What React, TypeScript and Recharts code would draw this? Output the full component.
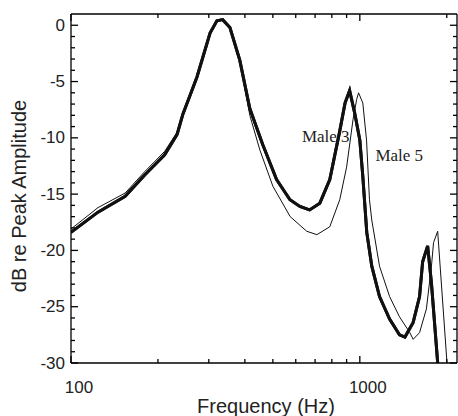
import React from "react";
import { LineChart, Line, XAxis, YAxis, ReferenceDot } from "recharts";

// Male 3 (thick) and Male 5 (thin), frequency in Hz, level in dB re peak
const male3Freq = [100, 124, 154, 180, 211, 233, 244, 273, 303, 320, 335, 355, 384, 416, 461, 515, 573, 620, 670, 727, 787, 852, 889, 922, 960, 1000, 1024, 1057, 1100, 1170, 1268, 1372, 1433, 1530, 1610, 1650, 1717, 1770, 1880];
const male3Db = [-18.4, -16.6, -15.2, -13.3, -11.5, -9.7, -7.9, -4.6, -0.7, 0.4, 0.5, -0.2, -3.1, -7.4, -10.6, -13.7, -15.5, -16.1, -16.4, -15.8, -13.7, -9.4, -6.9, -5.8, -7.8, -10.2, -13.4, -18.4, -21.4, -24.1, -26.1, -27.5, -27.7, -26.4, -24.1, -21.0, -19.6, -22.9, -31.5];

const male5Freq = [100, 124, 154, 180, 211, 233, 244, 273, 303, 320, 335, 355, 384, 416, 451, 500, 574, 655, 710, 787, 852, 900, 947, 975, 990, 1024, 1055, 1080, 1100, 1170, 1268, 1372, 1490, 1530, 1610, 1700, 1770, 1800, 1860, 2010];
const male5Db = [-18.1, -16.2, -14.9, -13.0, -11.2, -9.5, -7.8, -4.5, -0.7, 0.4, 0.5, -0.2, -3.1, -8.0, -11.1, -14.3, -17.0, -18.3, -18.6, -17.9, -15.5, -12.6, -8.4, -6.6, -6.0, -6.9, -10.2, -15.5, -17.3, -21.4, -24.1, -25.9, -27.3, -27.9, -27.3, -25.2, -21.4, -19.3, -18.3, -30.5];

const xTicks = [100, 200, 300, 400, 500, 600, 700, 800, 900, 1000, 2000];
const xLabels = [100, 1000];
const yTicks = [-30, -29, -28, -27, -26, -25, -24, -23, -22, -21, -20, -19, -18, -17, -16, -15, -14, -13, -12, -11, -10, -9, -8, -7, -6, -5, -4, -3, -2, -1, 0];
const yLabels = [-30, -25, -20, -15, -10, -5, 0];

const male3 = male3Freq.map((f, i) => ({ f, db: male3Db[i] }));
const male5 = male5Freq.map((f, i) => ({ f, db: male5Db[i] }));

const LeftTick = ({ y, payload }: any) => {
  const major = yLabels.includes(payload.value);
  return (
    <g>
      <line x1={71} x2={major ? 78 : 75} y1={y} y2={y} stroke="black" strokeWidth={1.3} />
      {major && (
        <text x={65} y={y} textAnchor="end" dominantBaseline="central" fontSize={17} fill="#222" fontFamily="Liberation Sans, Arial, sans-serif">
          {payload.value}
        </text>
      )}
    </g>
  );
};

const RightTick = ({ y, payload }: any) => {
  const major = yLabels.includes(payload.value);
  return <line x1={457} x2={major ? 450 : 453} y1={y} y2={y} stroke="black" strokeWidth={1.3} />;
};

const BottomTick = ({ x, payload }: any) => {
  const major = xLabels.includes(payload.value);
  return (
    <g>
      <line x1={x} x2={x} y1={363} y2={major ? 356 : 359} stroke="black" strokeWidth={1.3} />
      {major && (
        <text x={x + 8} y={387} textAnchor="middle" dominantBaseline="central" fontSize={17} fill="#222" fontFamily="Liberation Sans, Arial, sans-serif">
          {payload.value}
        </text>
      )}
    </g>
  );
};

const TopTick = ({ x, payload }: any) => {
  const major = xLabels.includes(payload.value);
  return <line x1={x} x2={x} y1={14} y2={major ? 21 : 18} stroke="black" strokeWidth={1.3} />;
};

const titleStyle: React.CSSProperties = {
  position: "absolute",
  height: 24,
  lineHeight: "24px",
  textAlign: "center",
  fontSize: 20,
  fontFamily: "Liberation Sans, Arial, sans-serif",
  color: "#222",
  whiteSpace: "nowrap",
};

export default function App() {
  return (
    <div style={{ position: "absolute", left: 0, top: 0, width: 458, height: 416, background: "#fff" }}>
      <LineChart width={458} height={416} margin={{ top: 0, right: 0, bottom: 0, left: 0 }}>
        <XAxis
          dataKey="f"
          type="number"
          scale="log"
          domain={[100, 2170]}
          allowDataOverflow
          ticks={xTicks}
          interval={0}
          height={53}
          tickLine={false}
          axisLine={{ stroke: "black", strokeWidth: 1.3 }}
          tick={<BottomTick />}
        />
        <XAxis
          xAxisId="top"
          orientation="top"
          dataKey="f"
          type="number"
          scale="log"
          domain={[100, 2170]}
          allowDataOverflow
          ticks={xTicks}
          interval={0}
          height={14}
          tickLine={false}
          axisLine={{ stroke: "black", strokeWidth: 1.3 }}
          tick={<TopTick />}
        />
        <YAxis
          type="number"
          domain={[-30, 1]}
          allowDataOverflow
          ticks={yTicks}
          interval={0}
          width={71}
          tickLine={false}
          axisLine={{ stroke: "black", strokeWidth: 1.3 }}
          tick={<LeftTick />}
        />
        <YAxis
          yAxisId="right"
          orientation="right"
          type="number"
          domain={[-30, 1]}
          allowDataOverflow
          ticks={yTicks}
          interval={0}
          width={1}
          tickLine={false}
          axisLine={{ stroke: "black", strokeWidth: 1.3 }}
          tick={<RightTick />}
        />
        {/* copy of Male 3 bound to the top/right frame axes so they render */}
        <Line data={male3} dataKey="db" xAxisId="top" yAxisId="right" stroke="#111" strokeWidth={3} dot={false} isAnimationActive={false} />
        <Line data={male5} dataKey="db" stroke="#111" strokeWidth={1} dot={false} isAnimationActive={false} />
        <Line data={male3} dataKey="db" stroke="#111" strokeWidth={3} dot={false} isAnimationActive={false} />
        <ReferenceDot x={762} y={-9.8} r={0} label={{ value: "Male 3", position: "center", fontSize: 17, fill: "#222" }} />
        <ReferenceDot x={1369} y={-11.5} r={0} label={{ value: "Male 5", position: "center", fontSize: 17, fill: "#222" }} />
      </LineChart>
      <div style={{ ...titleStyle, left: 166, top: 394, width: 200 }}>Frequency (Hz)</div>
      <div style={{ ...titleStyle, left: -111, top: 184, width: 260, transform: "rotate(-90deg)" }}>
        dB re Peak Amplitude
      </div>
    </div>
  );
}
